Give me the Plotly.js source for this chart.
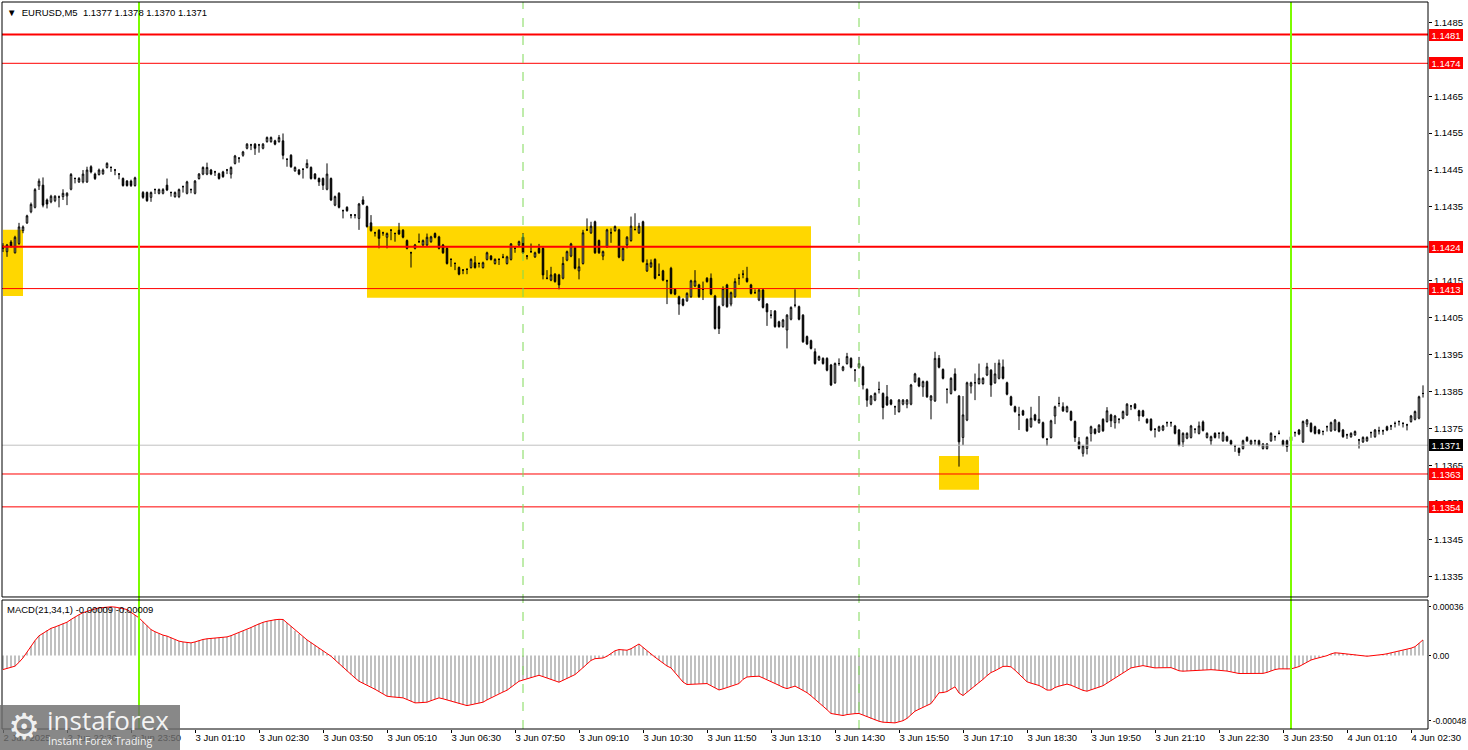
<!DOCTYPE html>
<html><head><meta charset="utf-8">
<script src="https://cdn.plot.ly/plotly-3.0.1.min.js"></script>
<style>html,body{margin:0;padding:0;background:#fff;overflow:hidden}#chart{width:1468px;height:750px}</style>
</head><body><div id="chart"></div>
<script>
// ---------- text ----------
const symbolTitle = '\u25BC\u00a0 EURUSD,M5\u00a0\u00a01.1377 1.1378 1.1370 1.1371';
const macdTitle = 'MACD(21,34,1) -0.00009 -0.00009';
const timeLabels = ['2 Jun 2025','2 Jun 22:30','2 Jun 23:50','3 Jun 01:10','3 Jun 02:30','3 Jun 03:50','3 Jun 05:10','3 Jun 06:30','3 Jun 07:50','3 Jun 09:10','3 Jun 10:30','3 Jun 11:50','3 Jun 13:10','3 Jun 14:30','3 Jun 15:50','3 Jun 17:10','3 Jun 18:30','3 Jun 19:50','3 Jun 21:10','3 Jun 22:30','3 Jun 23:50','4 Jun 01:10','4 Jun 02:30'];
const barsPerLabel = 16;

// ---------- EURUSD M5 candles (2 Jun 21:10 .. 4 Jun 02:45) ----------
const open = [
1.14244,1.14229,1.14255,1.14226,1.14251,1.14286,1.14307,1.14337,1.14349,1.14407,
1.14409,1.14369,1.14364,1.14367,1.14377,1.14378,1.14380,1.14398,1.14427,1.14418,
1.14418,1.14418,1.14459,1.14439,1.14438,1.14440,1.14457,1.14457,1.14450,1.14439,
1.14427,1.14420,1.14420,1.14408,1.14397,1.14389,1.14389,1.14376,1.14397,1.14387,
1.14387,1.14409,1.14389,1.14378,1.14378,1.14405,1.14387,1.14397,1.14387,1.14427,
1.14439,1.14439,1.14450,1.14445,1.14440,1.14445,1.14450,1.14439,1.14468,1.14482,
1.14490,1.14509,1.14518,1.14520,1.14518,1.14509,1.14527,1.14527,1.14529,1.14527,
1.14529,1.14479,1.14490,1.14448,1.14450,1.14452,1.14457,1.14457,1.14439,1.14427,
1.14427,1.14398,1.14427,1.14355,1.14387,1.14340,1.14349,1.14328,1.14328,1.14319,
1.14369,1.14351,1.14307,1.14280,1.14287,1.14280,1.14268,1.14287,1.14278,1.14287,
1.14287,1.14259,1.14226,1.14238,1.14256,1.14247,1.14247,1.14256,1.14278,1.14269,
1.14247,1.14238,1.14208,1.14197,1.14186,1.14179,1.14181,1.14186,1.14199,1.14197,
1.14186,1.14208,1.14217,1.14197,1.14208,1.14214,1.14197,1.14208,1.14238,1.14247,
1.14268,1.14217,1.14229,1.14215,1.14238,1.14238,1.14157,1.14152,1.14168,1.14166,
1.14157,1.14206,1.14217,1.14240,1.14177,1.14197,1.14288,1.14280,1.14310,1.14259,
1.14217,1.14242,1.14280,1.14286,1.14288,1.14206,1.14247,1.14259,1.14289,1.14280,
1.14310,1.14177,1.14188,1.14208,1.14166,1.14177,1.14150,1.14184,1.14127,1.14107,
1.14100,1.14096,1.14107,1.14136,1.14139,1.14127,1.14157,1.14157,1.14109,1.14080,
1.14084,1.14139,1.14087,1.14107,1.14157,1.14168,1.14157,1.14139,1.14118,1.14098,
1.14125,1.14087,1.14057,1.14068,1.14039,1.14026,1.14017,1.14046,1.14084,1.14080,
1.14057,1.13999,1.13988,1.13958,1.13936,1.13940,1.13940,1.13922,1.13874,1.13926,
1.13908,1.13926,1.13940,1.13908,1.13916,1.13917,1.13856,1.13816,1.13827,1.13856,
1.13845,1.13836,1.13827,1.13809,1.13796,1.13816,1.13816,1.13816,1.13877,1.13886,
1.13863,1.13877,1.13827,1.13825,1.13940,1.13910,1.13856,1.13845,1.13898,1.13838,
1.13726,1.13773,1.13865,1.13874,1.13872,1.13872,1.13895,1.13908,1.13874,1.13886,
1.13917,1.13874,1.13836,1.13809,1.13787,1.13798,1.13775,1.13755,1.13787,1.13766,
1.13766,1.13721,1.13726,1.13784,1.13818,1.13809,1.13796,1.13796,1.13769,1.13714,
1.13683,1.13696,1.13737,1.13748,1.13741,1.13775,1.13769,1.13787,1.13766,1.13775,
1.13778,1.13787,1.13811,1.13816,1.13798,1.13798,1.13775,1.13775,1.13748,1.13744,
1.13746,1.13766,1.13766,1.13757,1.13746,1.13714,1.13724,1.13726,1.13748,1.13737,
1.13768,1.13726,1.13717,1.13737,1.13737,1.13717,1.13728,1.13717,1.13703,1.13696,
1.13696,1.13726,1.13708,1.13717,1.13717,1.13696,1.13696,1.13717,1.13728,1.13737,
1.13717,1.13717,1.13717,1.13739,1.13746,1.13714,1.13762,1.13764,1.13755,1.13746,
1.13742,1.13755,1.13744,1.13746,1.13766,1.13746,1.13733,1.13728,1.13733,1.13719,
1.13714,1.13717,1.13739,1.13728,1.13744,1.13744,1.13755,1.13757,1.13764,1.13769,
1.13764,1.13760,1.13769,1.13775,1.13778,1.13845];
const high = [
1.14252,1.14250,1.14260,1.14272,1.14307,1.14300,1.14329,1.14362,1.14401,1.14427,
1.14430,1.14373,1.14383,1.14382,1.14381,1.14398,1.14390,1.14442,1.14430,1.14431,
1.14450,1.14459,1.14463,1.14443,1.14454,1.14454,1.14471,1.14460,1.14453,1.14442,
1.14430,1.14423,1.14424,1.14432,1.14400,1.14393,1.14392,1.14392,1.14400,1.14400,
1.14401,1.14427,1.14392,1.14392,1.14400,1.14408,1.14421,1.14400,1.14423,1.14442,
1.14460,1.14470,1.14453,1.14448,1.14443,1.14448,1.14453,1.14460,1.14491,1.14485,
1.14502,1.14523,1.14521,1.14523,1.14521,1.14523,1.14541,1.14541,1.14532,1.14545,
1.14549,1.14482,1.14493,1.14460,1.14453,1.14455,1.14479,1.14460,1.14442,1.14430,
1.14430,1.14468,1.14430,1.14381,1.14390,1.14343,1.14352,1.14331,1.14331,1.14361,
1.14379,1.14354,1.14328,1.14283,1.14290,1.14283,1.14281,1.14290,1.14281,1.14307,
1.14290,1.14262,1.14229,1.14250,1.14278,1.14262,1.14278,1.14272,1.14281,1.14272,
1.14250,1.14241,1.14211,1.14200,1.14189,1.14182,1.14184,1.14211,1.14217,1.14200,
1.14202,1.14229,1.14220,1.14211,1.14211,1.14223,1.14218,1.14252,1.14241,1.14259,
1.14279,1.14220,1.14251,1.14229,1.14250,1.14241,1.14179,1.14188,1.14171,1.14169,
1.14215,1.14232,1.14253,1.14243,1.14211,1.14288,1.14319,1.14310,1.14313,1.14262,
1.14232,1.14291,1.14292,1.14300,1.14291,1.14241,1.14271,1.14324,1.14333,1.14307,
1.14313,1.14208,1.14208,1.14211,1.14197,1.14180,1.14153,1.14188,1.14130,1.14110,
1.14103,1.14119,1.14153,1.14179,1.14142,1.14148,1.14160,1.14170,1.14112,1.14083,
1.14135,1.14142,1.14121,1.14157,1.14169,1.14179,1.14188,1.14142,1.14127,1.14128,
1.14128,1.14090,1.14071,1.14071,1.14042,1.14047,1.14060,1.14081,1.14127,1.14083,
1.14060,1.14002,1.13991,1.13967,1.13948,1.13943,1.13943,1.13925,1.13929,1.13940,
1.13920,1.13955,1.13943,1.13911,1.13944,1.13920,1.13859,1.13841,1.13848,1.13877,
1.13848,1.13868,1.13830,1.13812,1.13830,1.13830,1.13830,1.13871,1.13901,1.13889,
1.13880,1.13880,1.13841,1.13958,1.13949,1.13913,1.13859,1.13889,1.13913,1.13841,
1.13838,1.13877,1.13877,1.13899,1.13926,1.13889,1.13928,1.13911,1.13928,1.13937,
1.13937,1.13877,1.13839,1.13812,1.13809,1.13801,1.13778,1.13809,1.13790,1.13838,
1.13769,1.13724,1.13774,1.13812,1.13836,1.13821,1.13812,1.13799,1.13772,1.13727,
1.13706,1.13729,1.13758,1.13751,1.13762,1.13778,1.13808,1.13790,1.13787,1.13778,
1.13799,1.13819,1.13814,1.13819,1.13801,1.13801,1.13778,1.13778,1.13751,1.13758,
1.13760,1.13769,1.13769,1.13760,1.13749,1.13740,1.13740,1.13760,1.13751,1.13769,
1.13772,1.13740,1.13731,1.13740,1.13740,1.13742,1.13731,1.13720,1.13706,1.13699,
1.13720,1.13729,1.13720,1.13720,1.13720,1.13711,1.13711,1.13740,1.13731,1.13745,
1.13720,1.13720,1.13731,1.13742,1.13749,1.13772,1.13776,1.13767,1.13758,1.13749,
1.13745,1.13758,1.13769,1.13776,1.13769,1.13749,1.13736,1.13740,1.13745,1.13722,
1.13729,1.13729,1.13742,1.13749,1.13755,1.13747,1.13758,1.13760,1.13769,1.13772,
1.13767,1.13763,1.13787,1.13799,1.13839,1.13867];
const low = [
1.14228,1.14215,1.14240,1.14224,1.14247,1.14279,1.14304,1.14333,1.14346,1.14396,
1.14349,1.14346,1.14360,1.14363,1.14349,1.14369,1.14355,1.14395,1.14414,1.14415,
1.14414,1.14415,1.14441,1.14423,1.14435,1.14437,1.14454,1.14445,1.14436,1.14425,
1.14405,1.14405,1.14404,1.14405,1.14394,1.14372,1.14364,1.14364,1.14385,1.14384,
1.14384,1.14393,1.14378,1.14375,1.14374,1.14389,1.14384,1.14387,1.14384,1.14424,
1.14436,1.14436,1.14436,1.14434,1.14424,1.14429,1.14439,1.14427,1.14465,1.14470,
1.14486,1.14506,1.14504,1.14491,1.14497,1.14506,1.14524,1.14524,1.14517,1.14524,
1.14479,1.14459,1.14456,1.14445,1.14436,1.14427,1.14454,1.14424,1.14424,1.14407,
1.14396,1.14395,1.14366,1.14352,1.14346,1.14319,1.14337,1.14319,1.14319,1.14288,
1.14355,1.14294,1.14283,1.14270,1.14238,1.14272,1.14238,1.14260,1.14256,1.14274,
1.14265,1.14235,1.14186,1.14235,1.14253,1.14244,1.14244,1.14253,1.14265,1.14235,
1.14223,1.14194,1.14188,1.14179,1.14165,1.14168,1.14168,1.14183,1.14183,1.14186,
1.14183,1.14205,1.14205,1.14194,1.14193,1.14211,1.14194,1.14205,1.14226,1.14244,
1.14223,1.14208,1.14226,1.14212,1.14223,1.14154,1.14154,1.14149,1.14145,1.14127,
1.14154,1.14203,1.14214,1.14181,1.14154,1.14194,1.14285,1.14277,1.14223,1.14223,
1.14206,1.14239,1.14253,1.14283,1.14211,1.14203,1.14238,1.14256,1.14286,1.14277,
1.14199,1.14174,1.14185,1.14154,1.14163,1.14149,1.14087,1.14113,1.14111,1.14058,
1.14081,1.14093,1.14104,1.14133,1.14104,1.14098,1.14145,1.14111,1.14018,1.14006,
1.14081,1.14077,1.14081,1.14104,1.14139,1.14157,1.14145,1.14113,1.14115,1.14095,
1.14075,1.14028,1.14048,1.14023,1.14023,1.14023,1.13967,1.14043,1.14078,1.14043,
1.13982,1.13976,1.13964,1.13923,1.13933,1.13923,1.13905,1.13865,1.13871,1.13920,
1.13905,1.13923,1.13913,1.13877,1.13913,1.13856,1.13809,1.13813,1.13824,1.13845,
1.13775,1.13811,1.13813,1.13787,1.13793,1.13813,1.13805,1.13813,1.13874,1.13862,
1.13836,1.13833,1.13775,1.13822,1.13913,1.13883,1.13818,1.13842,1.13851,1.13647,
1.13705,1.13770,1.13845,1.13827,1.13869,1.13869,1.13892,1.13836,1.13871,1.13883,
1.13883,1.13840,1.13811,1.13793,1.13746,1.13784,1.13741,1.13752,1.13770,1.13763,
1.13723,1.13703,1.13723,1.13762,1.13809,1.13795,1.13793,1.13770,1.13714,1.13693,
1.13674,1.13680,1.13715,1.13734,1.13738,1.13741,1.13766,1.13754,1.13750,1.13764,
1.13775,1.13784,1.13800,1.13802,1.13770,1.13781,1.13763,1.13743,1.13726,1.13741,
1.13743,1.13755,1.13755,1.13734,1.13702,1.13701,1.13721,1.13723,1.13737,1.13734,
1.13742,1.13723,1.13706,1.13723,1.13723,1.13714,1.13714,1.13705,1.13687,1.13676,
1.13693,1.13714,1.13705,1.13706,1.13702,1.13693,1.13693,1.13714,1.13717,1.13734,
1.13702,1.13687,1.13714,1.13728,1.13732,1.13711,1.13754,1.13739,1.13734,1.13734,
1.13732,1.13742,1.13741,1.13743,1.13739,1.13725,1.13722,1.13725,1.13730,1.13696,
1.13711,1.13714,1.13725,1.13725,1.13734,1.13733,1.13743,1.13746,1.13753,1.13758,
1.13753,1.13745,1.13766,1.13772,1.13775,1.13834];
const close = [
1.14238,1.14247,1.14244,1.14268,1.14296,1.14296,1.14326,1.14357,1.14397,1.14420,
1.14355,1.14358,1.14379,1.14379,1.14377,1.14387,1.14387,1.14438,1.14427,1.14427,
1.14439,1.14450,1.14445,1.14427,1.14450,1.14450,1.14468,1.14457,1.14450,1.14439,
1.14408,1.14408,1.14408,1.14429,1.14397,1.14376,1.14367,1.14389,1.14397,1.14397,
1.14397,1.14396,1.14389,1.14389,1.14397,1.14405,1.14418,1.14397,1.14420,1.14439,
1.14457,1.14457,1.14439,1.14445,1.14427,1.14432,1.14450,1.14457,1.14488,1.14482,
1.14499,1.14520,1.14518,1.14509,1.14518,1.14520,1.14538,1.14538,1.14520,1.14538,
1.14490,1.14479,1.14459,1.14457,1.14439,1.14452,1.14468,1.14427,1.14427,1.14418,
1.14409,1.14439,1.14369,1.14378,1.14349,1.14340,1.14340,1.14328,1.14328,1.14358,
1.14358,1.14297,1.14286,1.14280,1.14265,1.14280,1.14278,1.14287,1.14278,1.14277,
1.14268,1.14238,1.14226,1.14247,1.14256,1.14259,1.14268,1.14269,1.14268,1.14238,
1.14226,1.14197,1.14208,1.14197,1.14168,1.14179,1.14181,1.14208,1.14186,1.14197,
1.14199,1.14226,1.14208,1.14208,1.14208,1.14214,1.14215,1.14250,1.14238,1.14256,
1.14226,1.14217,1.14229,1.14226,1.14226,1.14166,1.14157,1.14166,1.14148,1.14139,
1.14197,1.14229,1.14250,1.14184,1.14188,1.14280,1.14288,1.14298,1.14226,1.14226,
1.14229,1.14288,1.14280,1.14297,1.14214,1.14238,1.14268,1.14298,1.14289,1.14298,
1.14202,1.14197,1.14199,1.14157,1.14166,1.14152,1.14150,1.14116,1.14114,1.14087,
1.14084,1.14116,1.14150,1.14150,1.14107,1.14127,1.14148,1.14114,1.14021,1.14021,
1.14129,1.14080,1.14118,1.14148,1.14157,1.14168,1.14148,1.14116,1.14118,1.14125,
1.14078,1.14066,1.14057,1.14026,1.14026,1.14044,1.14057,1.14078,1.14084,1.14046,
1.13985,1.13979,1.13967,1.13926,1.13945,1.13926,1.13908,1.13868,1.13926,1.13926,
1.13917,1.13945,1.13916,1.13908,1.13926,1.13868,1.13827,1.13838,1.13845,1.13856,
1.13807,1.13814,1.13816,1.13809,1.13827,1.13827,1.13827,1.13868,1.13898,1.13865,
1.13877,1.13836,1.13838,1.13940,1.13916,1.13886,1.13856,1.13886,1.13854,1.13714,
1.13787,1.13874,1.13874,1.13874,1.13886,1.13886,1.13917,1.13868,1.13898,1.13927,
1.13886,1.13843,1.13814,1.13796,1.13787,1.13787,1.13744,1.13778,1.13773,1.13775,
1.13726,1.13721,1.13771,1.13809,1.13818,1.13798,1.13809,1.13773,1.13726,1.13696,
1.13703,1.13726,1.13755,1.13737,1.13759,1.13744,1.13798,1.13771,1.13784,1.13775,
1.13796,1.13816,1.13811,1.13805,1.13784,1.13784,1.13766,1.13746,1.13748,1.13755,
1.13757,1.13766,1.13766,1.13737,1.13705,1.13737,1.13737,1.13757,1.13748,1.13757,
1.13745,1.13737,1.13728,1.13726,1.13737,1.13739,1.13717,1.13708,1.13703,1.13685,
1.13717,1.13717,1.13717,1.13717,1.13705,1.13708,1.13708,1.13737,1.13728,1.13737,
1.13705,1.13701,1.13728,1.13739,1.13735,1.13769,1.13773,1.13742,1.13737,1.13737,
1.13742,1.13755,1.13766,1.13773,1.13742,1.13728,1.13733,1.13737,1.13742,1.13719,
1.13726,1.13726,1.13739,1.13746,1.13744,1.13744,1.13746,1.13757,1.13764,1.13769,
1.13764,1.13760,1.13784,1.13796,1.13836,1.13845];

// ---------- MACD(21,34,1) main = signal ----------
const macd = [
-0.000103,-0.000095,-0.000087,-0.000078,-0.00005,-0.000017,0.000025,0.000069,0.00011,0.000145,
0.000165,0.000185,0.0002,0.00021,0.000222,0.000235,0.000245,0.000265,0.000285,0.0003,
0.000315,0.000326,0.000335,0.000343,0.00035,0.000354,0.000357,0.000358,0.000356,0.000352,
0.000345,0.000338,0.000318,0.000298,0.000277,0.000248,0.00022,0.000191,0.000175,0.00016,
0.00015,0.000143,0.00013,0.000115,0.000106,0.0001,0.000095,0.000093,0.0001,0.00011,
0.000118,0.000123,0.000126,0.000128,0.000131,0.000134,0.000137,0.000146,0.000157,0.000168,
0.00018,0.000191,0.000206,0.00022,0.000235,0.000244,0.000252,0.00026,0.000263,0.000266,
0.000265,0.00024,0.000215,0.000183,0.000158,0.000138,0.000115,0.000095,0.000075,0.000056,
0.000034,0.000012,-0.000005,-0.000032,-0.00006,-0.000088,-0.000115,-0.00014,-0.000165,-0.000189,
-0.000203,-0.000215,-0.00023,-0.000248,-0.000265,-0.000283,-0.000299,-0.000303,-0.000306,-0.000309,
-0.000311,-0.000323,-0.000336,-0.000348,-0.000347,-0.000345,-0.000343,-0.000332,-0.00032,-0.000311,
-0.000318,-0.000326,-0.000335,-0.000343,-0.000352,-0.00036,-0.000368,-0.000362,-0.000356,-0.00035,
-0.000343,-0.000326,-0.00031,-0.000294,-0.00028,-0.000268,-0.000255,-0.000233,-0.000211,-0.000189,
-0.00018,-0.000171,-0.000163,-0.000154,-0.000145,-0.000155,-0.000165,-0.000176,-0.000186,-0.000196,
-0.000182,-0.000168,-0.000154,-0.00014,-0.000115,-0.000089,-0.000062,-0.000036,-0.000023,-0.00002,
-0.000018,-0.000005,0.000015,0.000035,0.000044,0.000042,0.000039,0.00005,0.000068,0.000085,
0.00006,0.000033,0.000012,-0.000012,-0.000033,-0.000055,-0.000077,-0.000091,-0.000125,-0.00016,
-0.000195,-0.000213,-0.000211,-0.00021,-0.000208,-0.000207,-0.000206,-0.000222,-0.000239,-0.000253,
-0.000245,-0.000234,-0.000223,-0.000212,-0.000206,-0.000175,-0.000158,-0.000155,-0.000153,-0.000152,
-0.000165,-0.000177,-0.000189,-0.000204,-0.000219,-0.000234,-0.000243,-0.000234,-0.000225,-0.00024,
-0.000256,-0.000273,-0.000296,-0.00032,-0.000343,-0.000371,-0.000398,-0.000426,-0.000431,-0.000436,
-0.000441,-0.000434,-0.000428,-0.000427,-0.000426,-0.000438,-0.00045,-0.000464,-0.000476,-0.000483,
-0.00049,-0.000492,-0.000494,-0.000495,-0.000487,-0.000479,-0.000462,-0.000435,-0.000409,-0.000395,
-0.000381,-0.000367,-0.000353,-0.000314,-0.000274,-0.000272,-0.000265,-0.000247,-0.00023,-0.000275,
-0.000294,-0.00027,-0.000248,-0.000225,-0.0002,-0.000175,-0.000148,-0.000125,-0.000112,-0.000099,
-0.00008,-0.000079,-0.000083,-0.000108,-0.000135,-0.000165,-0.000193,-0.000203,-0.000212,-0.00022,
-0.000236,-0.000254,-0.000254,-0.000235,-0.000225,-0.000218,-0.00021,-0.000218,-0.00023,-0.000245,
-0.000256,-0.000262,-0.000253,-0.000244,-0.000235,-0.000222,-0.000203,-0.000184,-0.000164,-0.000146,
-0.000128,-0.000109,-0.000091,-0.000085,-0.000079,-0.000074,-0.00008,-0.000087,-0.000091,-0.00009,
-0.000089,-0.000087,-0.000089,-0.0001,-0.000112,-0.000115,-0.000113,-0.000111,-0.00011,-0.000108,
-0.000106,-0.000104,-0.000104,-0.000106,-0.000107,-0.000108,-0.000114,-0.00012,-0.000126,-0.000132,
-0.000132,-0.000132,-0.000132,-0.000132,-0.000132,-0.000131,-0.000124,-0.000113,-0.000103,-0.000098,
-0.000099,-0.0001,-0.000098,-0.00009,-0.000081,-0.000065,-0.000048,-0.000033,-0.000024,-0.000017,
-0.000011,-0.000001,0.000012,0.00002,0.000018,0.000015,0.000012,0.00001,0.000007,0.000002,
-0.000003,-0.000005,-0.000002,0,0.000002,0.000008,0.000013,0.000019,0.000025,0.000032,
0.000039,0.000046,0.000054,0.000065,0.000093,0.000115];
const macdTickVals = [0.00036, 0, -0.00048];
const macdTickText = ['0.00036', '0.00', '-0.00048'];

// ---------- chart objects ----------
const levelPrices = [1.14817, 1.14739, 1.14242, 1.14129, 1.13627, 1.13538];
const levelLabels = ['1.1481', '1.1474', '1.1424', '1.1413', '1.1363', '1.1354'];
const bidPrice = 1.13705;
const bidLabel = '1.1371';
const dayStartBars = [34, 322];
const sessionBars = [130, 214];
const zoneStart = [0, 91, 234];
const zoneEnd = [5, 202, 244];
const zoneLow = [1.14109, 1.14104, 1.13584];
const zoneHigh = [1.14288, 1.14298, 1.13676];

// ---------- styles ----------
const levelWidths = [2, 1, 2, 1, 1, 1];
const FONT = 'Liberation Sans, Arial, sans-serif';
const bars = open.map((_, i) => i);
const priceDomain = [0.1816, 1];
const macdDomain = [0, 0.1774];

const traces = [
  {
    type: 'candlestick', x: bars, open: open, high: high, low: low, close: close,
    xaxis: 'x', yaxis: 'y', whiskerwidth: 0, hoverinfo: 'skip',
    increasing: {line: {color: '#000', width: 1}, fillcolor: '#fff'},
    decreasing: {line: {color: '#000', width: 1}, fillcolor: '#000'}
  },
  {
    type: 'bar', x: bars, y: macd, xaxis: 'x', yaxis: 'y2', width: 0.5,
    marker: {color: '#C0C0C0', line: {width: 0}}, hoverinfo: 'skip'
  },
  {
    type: 'scatter', mode: 'lines', x: bars, y: macd, xaxis: 'x', yaxis: 'y2',
    line: {color: '#FF0000', width: 1}, hoverinfo: 'skip'
  }
];

const shapes = [];
zoneStart.forEach((s, k) => shapes.push({
  type: 'rect', layer: 'below', xref: 'x', yref: 'y',
  x0: s, x1: zoneEnd[k], y0: zoneLow[k], y1: zoneHigh[k],
  fillcolor: '#FFD700', line: {width: 0}
}));
shapes.push({type: 'line', layer: 'above', xref: 'paper', yref: 'y', x0: 0, x1: 1,
  y0: bidPrice, y1: bidPrice, line: {color: '#C0C0C0', width: 1}});
levelPrices.forEach((p, k) => shapes.push({
  type: 'line', layer: 'above', xref: 'paper', yref: 'y', x0: 0, x1: 1, y0: p, y1: p,
  line: {color: '#FF0000', width: levelWidths[k]}
}));
sessionBars.forEach(b => shapes.push({
  type: 'line', layer: 'above', xref: 'x', yref: 'paper', x0: b, x1: b, y0: 0, y1: 1,
  line: {color: '#7FD957', width: 1, dash: 'dash'}
}));
dayStartBars.forEach(b => shapes.push({
  type: 'line', layer: 'above', xref: 'x', yref: 'paper', x0: b, x1: b, y0: 0, y1: 1,
  line: {color: '#7CFC00', width: 2}
}));
// panel frames
shapes.push({type: 'rect', layer: 'above', xref: 'paper', yref: 'paper', x0: 0, x1: 1,
  y0: priceDomain[0], y1: priceDomain[1], line: {color: '#000', width: 1}, fillcolor: 'rgba(0,0,0,0)'});
shapes.push({type: 'rect', layer: 'above', xref: 'paper', yref: 'paper', x0: 0, x1: 1,
  y0: macdDomain[0], y1: macdDomain[1], line: {color: '#000', width: 1}, fillcolor: 'rgba(0,0,0,0)'});
// watermark box
shapes.push({type: 'rect', layer: 'above', xref: 'paper', yref: 'paper',
  x0: -2 / 1426, x1: 178 / 1426, y0: -21 / 727, y1: 24 / 727,
  fillcolor: 'rgba(110,110,110,0.82)', line: {width: 0}});

const annotations = [];
levelPrices.forEach((p, k) => annotations.push({
  xref: 'paper', yref: 'y', x: 1, y: p, xanchor: 'left', yanchor: 'middle', xshift: 1,
  text: levelLabels[k], showarrow: false, bgcolor: '#FF0000', borderpad: 0, borderwidth: 1,
  bordercolor: '#FF0000', width: 32, height: 10, font: {family: FONT, size: 9.5, color: '#fff'}
}));
annotations.push({
  xref: 'paper', yref: 'y', x: 1, y: bidPrice, xanchor: 'left', yanchor: 'middle', xshift: 1,
  text: bidLabel, showarrow: false, bgcolor: '#000', borderpad: 0, borderwidth: 1,
  bordercolor: '#000', width: 32, height: 10, font: {family: FONT, size: 9.5, color: '#fff'}
});
annotations.push({
  xref: 'paper', yref: 'paper', x: 0, y: 1, xanchor: 'left', yanchor: 'top', xshift: 3, yshift: -3,
  text: symbolTitle, showarrow: false, font: {family: FONT, size: 9.5, color: '#000'}
});
annotations.push({
  xref: 'paper', yref: 'paper', x: 0, y: macdDomain[1], xanchor: 'left', yanchor: 'top', xshift: 3, yshift: -2,
  text: macdTitle, showarrow: false, font: {family: FONT, size: 9.5, color: '#000'}
});
// watermark text
annotations.push({
  xref: 'paper', yref: 'paper', x: 4 / 1426, y: 3 / 727, xanchor: 'left', yanchor: 'middle',
  text: '\u2699', showarrow: false, font: {family: 'DejaVu Sans', size: 36, color: 'rgba(255,255,255,0.9)'}
});
annotations.push({
  xref: 'paper', yref: 'paper', x: 43 / 1426, y: 9 / 727, xanchor: 'left', yanchor: 'middle',
  text: 'instaforex', showarrow: false, font: {family: 'Open Sans, Liberation Sans', size: 26, color: 'rgba(255,255,255,0.92)'}
});
annotations.push({
  xref: 'paper', yref: 'paper', x: 44 / 1426, y: -12 / 727, xanchor: 'left', yanchor: 'middle',
  text: 'Instant Forex Trading', showarrow: false, font: {family: 'Open Sans, Liberation Sans', size: 10.5, color: 'rgba(255,255,255,0.92)'}
});

const layout = {
  width: 1468, height: 750,
  margin: {l: 2, r: 40, t: 2, b: 21, pad: 0},
  paper_bgcolor: '#fff', plot_bgcolor: '#fff',
  showlegend: false, boxgap: 0.45, bargap: 0.5,
  font: {family: FONT, size: 9.5, color: '#000'},
  xaxis: {
    domain: [0, 1], range: [-0.25, 356.25], anchor: 'y2',
    tickvals: timeLabels.map((_, k) => k * barsPerLabel), ticktext: timeLabels,
    ticks: 'outside', ticklen: 3, tickcolor: '#000', ticklabelposition: 'outside right',
    showgrid: false, zeroline: false, showline: false, fixedrange: true,
    rangeslider: {visible: false}, tickfont: {family: FONT, size: 9.5, color: '#000'}
  },
  yaxis: {
    domain: priceDomain, range: [1.13294, 1.14905], side: 'right', anchor: 'x',
    tick0: 1.1335, dtick: 0.001, tickformat: '.4f',
    ticks: 'outside', ticklen: 3, tickcolor: '#000',
    showgrid: false, zeroline: false, showline: false, fixedrange: true,
    tickfont: {family: FONT, size: 9.5, color: '#000'}
  },
  yaxis2: {
    domain: macdDomain, range: [-0.00054, 0.000408], side: 'right', anchor: 'x',
    tickvals: macdTickVals, ticktext: macdTickText,
    ticks: 'outside', ticklen: 2, tickcolor: '#000',
    showgrid: false, zeroline: false, showline: false, fixedrange: true,
    tickfont: {family: FONT, size: 8.5, color: '#000'}
  },
  shapes: shapes,
  annotations: annotations
};

Plotly.newPlot('chart', traces, layout, {staticPlot: true, displayModeBar: false});
</script>
</body></html>
